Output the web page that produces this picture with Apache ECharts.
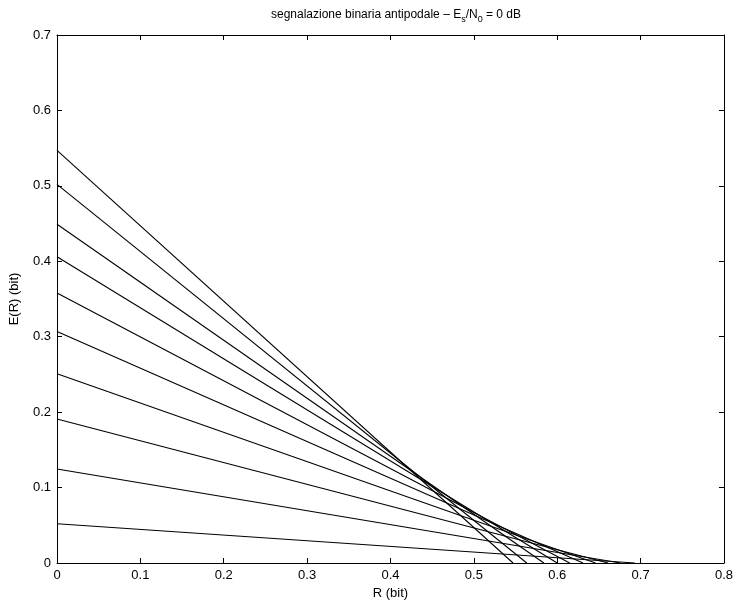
<!DOCTYPE html>
<html>
<head>
<meta charset="utf-8">
<script src="https://cdn.jsdelivr.net/npm/echarts@6/dist/echarts.min.js"></script>
<style>html,body{margin:0;padding:0;background:#fff}#c{width:736px;height:605px}</style>
</head>
<body>
<div id="c"></div>
<script>
// E0(rho) values (y-intercepts) and x-intercepts E0(rho)/rho
const yIntercepts = [0.547, 0.502, 0.449, 0.406, 0.358, 0.307, 0.251, 0.191, 0.1246, 0.052];
const xIntercepts = [0.547, 0.5635, 0.584, 0.600, 0.615, 0.631, 0.646, 0.661, 0.676, 0.693];
const xTickLabels = ['0','0.1','0.2','0.3','0.4','0.5','0.6','0.7','0.8'];
const yTickLabels = ['0','0.1','0.2','0.3','0.4','0.5','0.6','0.7'];

const FONT = 'Liberation Sans, Arial, Helvetica, sans-serif';
const series = yIntercepts.map((y0, i) => ({
  type: 'line',
  data: [[0, y0], [xIntercepts[i], 0]],
  showSymbol: false,
  symbol: 'none',
  silent: true,
  lineStyle: { color: '#000', width: 1.1 },
  xAxisIndex: 0, yAxisIndex: 0
}));

const fmtX = v => xTickLabels[Math.round(v * 10)] ?? '';
const fmtY = v => yTickLabels[Math.round(v * 10)] ?? '';

const axisCommon = {
  type: 'value',
  interval: 0.1,
  splitLine: { show: false },
  axisLine: { show: true, onZero: false, lineStyle: { color: '#000', width: 1 } },
  axisTick: { show: true, inside: true, length: 5, lineStyle: { color: '#000' } }
};

const chart = echarts.init(document.getElementById('c'), null, { renderer: 'canvas' });
chart.setOption({
  animation: false,
  backgroundColor: '#fff',
  title: {
    text: 'segnalazione binaria antipodale – E{sub|s}/N{sub|0} = 0 dB',
    left: 391, textAlign: 'center', top: 1,
    textStyle: {
      fontFamily: FONT, fontSize: 12, fontWeight: 'normal', color: '#000',
      rich: { sub: { fontFamily: FONT, fontSize: 9, color: '#000', padding: [9, 0, 0, 0] } }
    }
  },
  grid: { left: 55, right: 6, top: 35, bottom: 38, containLabel: false },
  xAxis: [
    Object.assign({}, axisCommon, {
      min: 0, max: 0.8, position: 'bottom',
      name: 'R (bit)', nameLocation: 'middle', nameGap: 24,
      nameTextStyle: { fontFamily: FONT, fontSize: 13, color: '#000' },
      axisLabel: { formatter: fmtX, margin: 6, fontFamily: FONT, fontSize: 13, color: '#000' }
    }),
    Object.assign({}, axisCommon, {
      min: 0, max: 0.8, position: 'top',
      axisLabel: { show: false }
    })
  ],
  yAxis: [
    Object.assign({}, axisCommon, {
      min: 0, max: 0.7, position: 'left',
      name: 'E(R) (bit)', nameLocation: 'middle', nameGap: 36, nameRotate: 90,
      nameTextStyle: { fontFamily: FONT, fontSize: 13, color: '#000' },
      axisLabel: { formatter: fmtY, margin: 6, fontFamily: FONT, fontSize: 13, color: '#000' }
    }),
    Object.assign({}, axisCommon, {
      min: 0, max: 0.7, position: 'right',
      axisLabel: { show: false }
    })
  ],
  series: series
});
</script>
</body>
</html>
